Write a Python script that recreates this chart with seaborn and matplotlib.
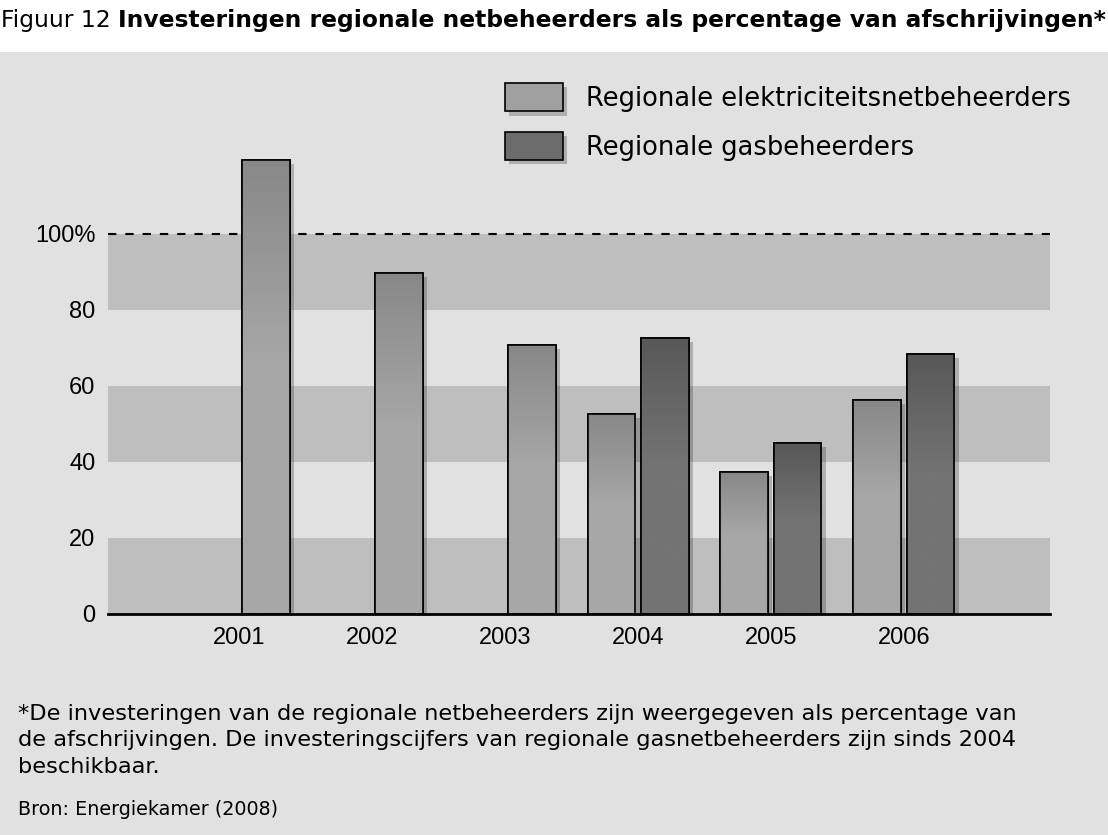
import numpy as np
import pandas as pd
import matplotlib
matplotlib.use("Agg")
import matplotlib.pyplot as plt
import matplotlib.patheffects as pe
from matplotlib.patches import Rectangle, Patch
from matplotlib.colors import to_rgb
import seaborn as sns

# ---------------- data ----------------
years = ["2001", "2002", "2003", "2004", "2005", "2006"]
elec_values = [119.5, 89.7, 70.8, 52.6, 37.4, 56.3]
gas_values = [np.nan, np.nan, np.nan, 72.6, 45.0, 68.4]
series_names = ["Regionale elektriciteitsnetbeheerders", "Regionale gasbeheerders"]
ytick_values = [0, 20, 40, 60, 80, 100]
ytick_labels = ["0", "20", "40", "60", "80", "100%"]
band_starts = [0, 40, 80]
title_prefix = "Figuur 12 "
title_main = "Investeringen regionale netbeheerders als percentage van afschrijvingen*"
footnote_lines = [
    "*De investeringen van de regionale netbeheerders zijn weergegeven als percentage van",
    "de afschrijvingen. De investeringscijfers van regionale gasnetbeheerders zijn sinds 2004",
    "beschikbaar.",
]
source_text = "Bron: Energiekamer (2008)"

# ---------------- style ----------------
ELEC = "#a0a0a0"
GAS = "#6c6c6c"
ELEC_TOP = "#888888"
GAS_TOP = "#585858"
ELEC_BOT = "#a7a7a7"
GAS_BOT = "#737373"
PANEL = "#e1e1e1"
BAND = "#bebebe"

sns.set_theme(style="white")
plt.rcParams["font.family"] = ["Liberation Sans", "DejaVu Sans"]
for k in ["text.color", "axes.labelcolor", "xtick.color", "ytick.color"]:
    plt.rcParams[k] = "black"
WIDE = ["DejaVu Sans"]

W, H = 1108, 835
fig = plt.figure(figsize=(W / 100, H / 100), dpi=100)
fig.patch.set_facecolor("white")
fig.add_artist(Rectangle((0, 0), 1, (H - 52) / H, transform=fig.transFigure,
                         facecolor=PANEL, edgecolor="none", zorder=0))

ax = fig.add_axes([108 / W, (H - 614) / H, 942 / W, 475 / H])
ax.set_facecolor("none")

# long-form data: slot decides left/right position within a year
rows = []
for y, e, g in zip(years, elec_values, gas_values):
    has_gas = not np.isnan(g)
    rows.append(dict(year=y, series=series_names[0], value=e,
                     slot="left" if has_gas else "right"))
    if has_gas:
        rows.append(dict(year=y, series=series_names[1], value=g, slot="right"))
df = pd.DataFrame(rows)

groups = []
for name, col in [(series_names[0], ELEC), (series_names[1], GAS)]:
    n0 = len(ax.containers)
    sub = df[df["series"] == name]
    sns.barplot(data=sub, x="year", y="value", hue="slot", hue_order=["left", "right"],
                order=years, palette=[col, col], width=0.8, gap=0.1, dodge=True,
                legend=False, saturation=1, edgecolor="black", linewidth=1.2,
                errorbar=None, ax=ax, zorder=3)
    groups.append((name, ax.containers[n0:]))

# gradient fills, shadows, edges
tops = {series_names[0]: (ELEC_TOP, ELEC_BOT), series_names[1]: (GAS_TOP, GAS_BOT)}
shadow = [pe.SimplePatchShadow(offset=(3, -3), shadow_rgbFace="black", alpha=0.22), pe.Normal()]
for name, conts in groups:
    ctop, cbot = (np.array(to_rgb(c)) for c in tops[name])
    for cont in conts:
        for bar in cont:
            h = bar.get_height()
            if h is None or np.isnan(h) or h == 0:
                continue
            x, w = bar.get_x(), bar.get_width()
            bar.set_path_effects(shadow)
            n = 200
            t = np.linspace(0, 1, n)
            frac = np.clip(t / 0.45, 0, 1)
            grad = (ctop[None, :] * (1 - frac[:, None]) + cbot[None, :] * frac[:, None])
            im = ax.imshow(grad[:, None, :], extent=[x, x + w, 0, h], aspect="auto",
                           interpolation="bilinear", zorder=3.1)
            im.set_clip_path(bar)
            ax.add_patch(Rectangle((x, 0), w, h, fill=False, edgecolor="black",
                                   linewidth=1.2, zorder=3.2))

# background bands and 100% line
for lo in band_starts:
    ax.axhspan(lo, lo + 20, color=BAND, lw=0, zorder=0.5)
ax.axhline(100, color="black", lw=1.5, ls=(0, (4, 4.3)), zorder=0.6)

ax.set_xlim(-0.99, 6.1)
ax.set_ylim(0, 125)
ax.set_aspect("auto")
ax.set_xlabel("")
ax.set_ylabel("")
ax.set_yticks(ytick_values)
ax.set_yticklabels(ytick_labels)
for s in ["top", "right", "left"]:
    ax.spines[s].set_visible(False)
ax.spines["bottom"].set_color("black")
ax.spines["bottom"].set_linewidth(2)
ax.spines["bottom"].set_zorder(4)
ax.tick_params(axis="both", length=0, colors="black")
ax.tick_params(axis="y", pad=9)
ax.tick_params(axis="x", pad=9)
for lab in ax.get_xticklabels() + ax.get_yticklabels():
    lab.set_fontsize(17)

# legend
handles = [Patch(facecolor=ELEC, edgecolor="black", linewidth=1.2, path_effects=shadow),
           Patch(facecolor=GAS, edgecolor="black", linewidth=1.2, path_effects=shadow)]
fs_leg = 18.5
px = fs_leg * 100 / 72
leg = fig.legend(handles, series_names, loc="upper left",
                 bbox_to_anchor=(505 / W, 1 - 83 / H), bbox_transform=fig.transFigure,
                 frameon=False, borderpad=0, borderaxespad=0,
                 prop={"family": WIDE, "size": fs_leg},
                 handlelength=58 / px, handleheight=34 / px,
                 handletextpad=23 / px, labelspacing=20 / px)

# title
t1 = fig.text(1 / W, 1 - 27 / H, title_prefix, fontsize=16.8, va="baseline", ha="left",
              family=WIDE)
fig.canvas.draw()
bb = t1.get_window_extent()
fig.text(bb.x1 / W, 1 - 27 / H, title_main, fontsize=16.8, fontweight="bold",
         va="baseline", ha="left", family=WIDE)

# footnotes
for i, line in enumerate(footnote_lines):
    fig.text(18 / W, 1 - (720 + i * 26.5) / H, line, fontsize=16.2, va="baseline",
             ha="left", family=WIDE)
fig.text(18 / W, 1 - 815 / H, source_text, fontsize=13.8, va="baseline", ha="left",
         family=WIDE)

fig.savefig("out.png", dpi=100, facecolor=fig.get_facecolor())
